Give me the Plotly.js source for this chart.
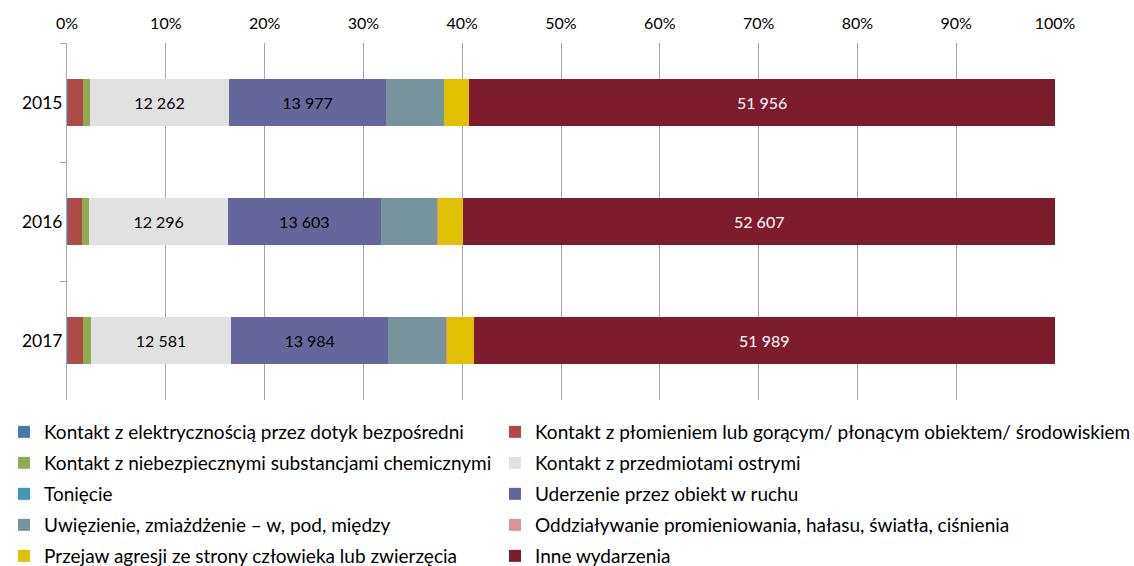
<!DOCTYPE html>
<html>
<head>
<meta charset="utf-8">
<script src="https://cdn.plot.ly/plotly-3.0.1.min.js"></script>
<style>html,body{margin:0;padding:0;background:#fff;}#chart{width:1134px;height:566px;}</style>
</head>
<body>
<div id="chart"></div>
<script>
const years = ["2015", "2016", "2017"];
const seriesNames = [
  "Kontakt z elektrycznością przez dotyk bezpośredni",
  "Kontakt z płomieniem lub gorącym/ płonącym obiektem/ środowiskiem",
  "Kontakt z niebezpiecznymi substancjami chemicznymi",
  "Kontakt z przedmiotami ostrymi",
  "Tonięcie",
  "Uderzenie przez obiekt w ruchu",
  "Uwięzienie, zmiażdżenie – w, pod, między",
  "Oddziaływanie promieniowania, hałasu, światła, ciśnienia",
  "Przejaw agresji ze strony człowieka lub zwierzęcia",
  "Inne wydarzenia"
];
const elektrycznosc = [90, 90, 90];
const plomien = [1300, 1210, 1310];
const chemiczne = [680, 700, 715];
const ostre = [12262, 12296, 12581];
const toniecie = [10, 10, 10];
const uderzenie = [13977, 13603, 13984];
const uwiezienie = [5080, 5030, 5210];
const promieniowanie = [60, 60, 60];
const agresja = [2220, 2250, 2400];
const inne = [51956, 52607, 51989];
const xTicks = [0, 10, 20, 30, 40, 50, 60, 70, 80, 90, 100];

const seriesValues = [elektrycznosc, plomien, chemiczne, ostre, toniecie, uderzenie, uwiezienie, promieniowanie, agresja, inne];
const colors = ["#4A78AE", "#AE4A48", "#8EAB4E", "#E1E1E1", "#3D9AB4", "#65679C", "#77939B", "#D99594", "#E0C000", "#7D1C2D"];
const labelled = {3: "#000000", 5: "#000000", 9: "#FFFFFF"};

function fmt(v) { return String(v).replace(/\B(?=(\d{3})+(?!\d))/g, " "); }
function legendId(i) { return i === 0 ? "legend" : "legend" + (i + 1); }

const traces = seriesValues.map((vals, i) => {
  const t = {
    type: "bar",
    orientation: "h",
    name: seriesNames[i],
    y: years,
    x: vals,
    marker: {color: colors[i], line: {width: 0}},
    legend: legendId(i),
    hoverinfo: "name+x"
  };
  if (labelled[i] !== undefined) {
    t.text = vals.map(fmt);
    t.textposition = "inside";
    t.insidetextanchor = "middle";
    t.textfont = {family: "Lato, sans-serif", size: 16, color: labelled[i]};
  } else {
    t.textposition = "none";
  }
  return t;
});

const legendRowsY = [432, 463, 494, 525, 556];
const legendColsX = [4, 495];
const layout = {
  width: 1134,
  height: 566,
  margin: {l: 67, r: 79, t: 43, b: 166, autoexpand: false},
  paper_bgcolor: "#ffffff",
  plot_bgcolor: "#ffffff",
  font: {family: "Lato, sans-serif", size: 16, color: "#000000"},
  barmode: "stack",
  barnorm: "percent",
  bargap: 0.6,
  showlegend: true,
  xaxis: {
    side: "top",
    range: [0, 100],
    tickvals: xTicks,
    ticktext: xTicks.map(v => v + "%"),
    showgrid: true,
    gridcolor: "#A6A6A6",
    gridwidth: 1,
    zeroline: false,
    showline: false,
    ticks: "outside",
    ticklen: 7,
    tickcolor: "rgba(0,0,0,0)",
    tickfont: {size: 16},
    automargin: false
  },
  yaxis: {
    type: "category",
    autorange: "reversed",
    showline: true,
    linecolor: "#A6A6A6",
    linewidth: 1,
    ticks: "outside",
    tickson: "boundaries",
    ticklen: 6,
    tickcolor: "#A6A6A6",
    showgrid: false,
    tickfont: {size: 17.5},
    automargin: false
  }
};
seriesNames.forEach((n, i) => {
  layout[legendId(i)] = {
    orientation: "v",
    xref: "container",
    yref: "container",
    x: legendColsX[i % 2] / 1134,
    xanchor: "left",
    y: 1 - (legendRowsY[Math.floor(i / 2)] / 566),
    yanchor: "middle",
    itemwidth: 30,
    borderwidth: 0,
    font: {family: "Lato, sans-serif", size: 19, color: "#000000"},
    bgcolor: "rgba(0,0,0,0)"
  };
});

Plotly.newPlot("chart", traces, layout, {displayModeBar: false, staticPlot: true});
</script>
</body>
</html>
